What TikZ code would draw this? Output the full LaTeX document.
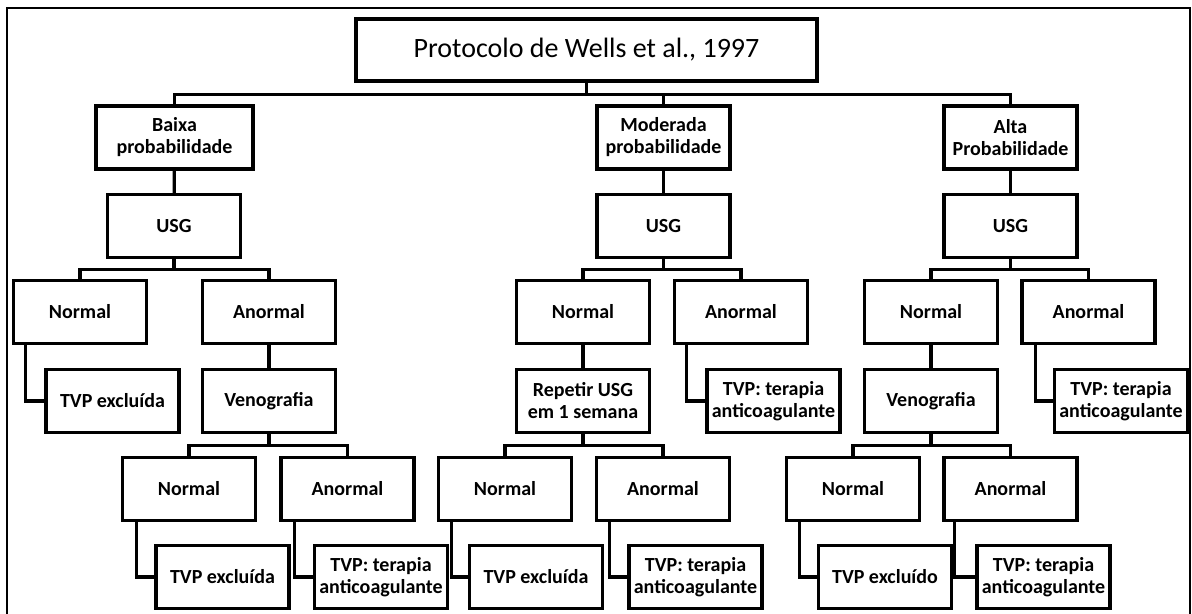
\documentclass[tikz,border=0pt]{standalone}
\usepackage{fontspec}
\setmainfont{Carlito}
\usetikzlibrary{calc}

\begin{document}
\begin{tikzpicture}[x=0.5pt, y=-0.5pt, line cap=rect, line join=miter]

			\tikzset{
				box/.style={draw=black, line width=1.8pt, minimum width=66.5pt, minimum height=31.5pt, inner sep=1pt, align=center, font=\fontsize{10}{11}\selectfont\bfseries},
				link/.style={draw=black, line width=1.6pt},
				frame/.style={draw=black, line width=0.8pt},
			}

			\useasboundingbox (0,0) rectangle (1192,614);
			\draw[frame] (7,640) -- (7,8) -- (1190,8) -- (1190,640);

			% --- Top: protocol and probability levels
			\node[box, minimum width=230.5pt, minimum height=31pt, font=\fontsize{14}{16}\selectfont] (title) at (586.5,50) {Protocolo de Wells et al., 1997};

			\node[box, minimum width=78.5pt] (baixa) at (174.5,137.5) {Baixa\\probabilidade};
			\node[box] (moderada) at (663.5,137.5) {Moderada\\probabilidade};
			\node[box] (alta) at (1010.5,137.5) {Alta\\Probabilidade};

			\draw[link] (title.south) -- ++(0,12) coordinate (bus0);
			\draw[link] (baixa.north) |- (bus0) -| (alta.north);
			\draw[link] (moderada.north) -- (moderada.north |- bus0);

			% --- USG for each level
			\node[box] (usgB) at (174,226) {USG};
			\node[box] (usgM) at (663.5,226) {USG};
			\node[box] (usgA) at (1010.5,226) {USG};

			\draw[link] (baixa) -- (usgB);
			\draw[link] (moderada) -- (usgM);
			\draw[link] (alta) -- (usgA);

			% --- Left branch: baixa probabilidade
			\node[box] (normB) at (80,312) {Normal};
			\node[box] (anorB) at (269,312) {Anormal};
			\draw[link] (usgB.south) -- ++(0,10) coordinate (busB);
			\draw[link] (normB.north) |- (busB) -| (anorB.north);

			\node[box] (tvpB) at (112.5,401) {TVP excluída};
			\node[box] (venoB) at (269,401) {Venografia};
			\draw[link] ($(normB.south west)+(14,0)$) |- (tvpB.west);
			\draw[link] (anorB) -- (venoB);

			\node[box] (normBv) at (189,489) {Normal};
			\node[box] (anorBv) at (347.5,489) {Anormal};
			\draw[link] (venoB.south) -- ++(0,11) coordinate (busBv);
			\draw[link] (normBv.north) |- (busBv) -| (anorBv.north);

			\node[box] (tvpBn) at (222.5,577) {TVP excluída};
			\node[box] (tvpBa) at (381,577) {TVP: terapia\\anticoagulante};
			\draw[link] ($(normBv.south west)+(16,0)$) |- (tvpBn.west);
			\draw[link] ($(anorBv.south west)+(15,0)$) |- (tvpBa.west);

			% --- Middle branch: moderada probabilidade
			\node[box] (normM) at (583,312) {Normal};
			\node[box] (anorM) at (741,312) {Anormal};
			\draw[link] (usgM.south) -- ++(0,10) coordinate (busM);
			\draw[link] (normM.north) |- (busM) -| (anorM.north);

			\node[box] (repM) at (583,401) {Repetir USG\\em 1 semana};
			\node[box] (tvpM) at (773.5,401) {TVP: terapia\\anticoagulante};
			\draw[link] (normM) -- (repM);
			\draw[link] ($(anorM.south west)+(14,0)$) |- (tvpM.west);

			\node[box] (normMr) at (505,489) {Normal};
			\node[box] (anorMr) at (663,489) {Anormal};
			\draw[link] (repM.south) -- ++(0,11) coordinate (busMr);
			\draw[link] (normMr.north) |- (busMr) -| (anorMr.north);

			\node[box] (tvpMn) at (536,577) {TVP excluída};
			\node[box] (tvpMa) at (695.5,577) {TVP: terapia\\anticoagulante};
			\draw[link] ($(normMr.south west)+(15,0)$) |- (tvpMn.west);
			\draw[link] ($(anorMr.south west)+(15,0)$) |- (tvpMa.west);

			% --- Right branch: alta probabilidade
			\node[box] (normA) at (931,312) {Normal};
			\node[box] (anorA) at (1088.5,312) {Anormal};
			\draw[link] (usgA.south) -- ++(0,10) coordinate (busA);
			\draw[link] (normA.north) |- (busA) -| (anorA.north);

			\node[box] (venoA) at (931,401) {Venografia};
			\node[box] (tvpA) at (1121,401) {TVP: terapia\\anticoagulante};
			\draw[link] (normA) -- (venoA);
			\draw[link] ($(anorA.south west)+(15,0)$) |- (tvpA.west);

			\node[box] (normAv) at (853,489) {Normal};
			\node[box] (anorAv) at (1010.5,489) {Anormal};
			\draw[link] (venoA.south) -- ++(0,11) coordinate (busAv);
			\draw[link] (normAv.north) |- (busAv) -| (anorAv.north);

			\node[box] (tvpAn) at (885,577) {TVP excluído};
			\node[box] (tvpAa) at (1043.5,577) {TVP: terapia\\anticoagulante};
			\draw[link] ($(normAv.south west)+(15,0)$) |- (tvpAn.west);
			\draw[link] ($(anorAv.south west)+(12,0)$) |- (tvpAa.west);

		\end{tikzpicture}
\end{document}
